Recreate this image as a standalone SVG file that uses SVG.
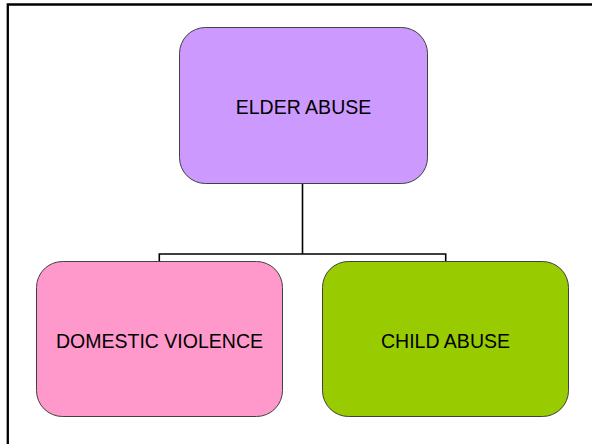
<svg xmlns="http://www.w3.org/2000/svg" width="592" height="444" viewBox="0 0 592 444">
  <style>
    .box { stroke: #404040; stroke-width: 1; }
    .lbl { font-family: "Liberation Sans", Arial, sans-serif; font-size: 19.5px; fill: #000; text-anchor: middle; }
    .conn { fill: none; stroke: #000; stroke-width: 1.6; }
  </style>
  <rect x="0" y="0" width="592" height="444" fill="#fff"/>
  <path d="M 7.8 444 L 7.8 4.5 L 592 4.5" fill="none" stroke="#000" stroke-width="2.3"/>
  <g id="connectors">
    <path class="conn" d="M 302.5 183.5 L 302.5 254"/>
    <path class="conn" d="M 159.3 261.5 L 159.3 254 L 445.7 254 L 445.7 261.5"/>
  </g>
  <g id="elder-abuse">
    <rect class="box" x="179.5" y="27.5" width="248" height="156" rx="26" ry="26" fill="#CC99FF"/>
    <text class="lbl" x="303.5" y="114">ELDER ABUSE</text>
  </g>
  <g id="domestic-violence">
    <rect class="box" x="36.5" y="261.5" width="246" height="155" rx="26" ry="26" fill="#FF99CC"/>
    <text class="lbl" x="159.5" y="347.5">DOMESTIC VIOLENCE</text>
  </g>
  <g id="child-abuse">
    <rect class="box" x="322.5" y="261.5" width="246" height="155" rx="26" ry="26" fill="#99CC00"/>
    <text class="lbl" x="445.5" y="348">CHILD ABUSE</text>
  </g>
</svg>
